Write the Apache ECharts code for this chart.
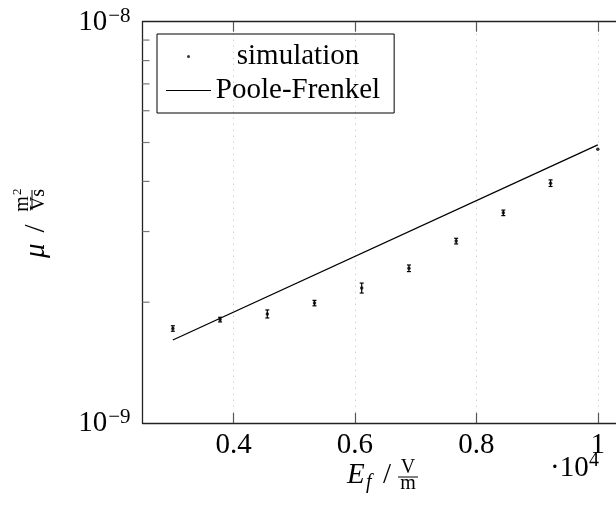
<!DOCTYPE html>
<html>
<head>
<meta charset="utf-8">
<script src="https://cdn.jsdelivr.net/npm/echarts@6/dist/echarts.min.js"></script>
<style>html,body{margin:0;padding:0;background:#fff}#c{width:616px;height:511px}</style>
</head>
<body>
<div id="c"></div>
<script>
// ---- data ----
const simX = [0.3, 0.3778, 0.4556, 0.5333, 0.6111, 0.6889, 0.7667, 0.8444, 0.9222, 1.0];
const simY = [1.72e-9, 1.81e-9, 1.87e-9, 1.99e-9, 2.17e-9, 2.43e-9, 2.84e-9, 3.34e-9, 3.96e-9, 4.81e-9];
const simErr = [0.027e-9, 0.024e-9, 0.043e-9, 0.031e-9, 0.062e-9, 0.046e-9, 0.046e-9, 0.053e-9, 0.075e-9, 0];
const pfX = [0.3, 1.0];
const pfY = [1.61e-9, 4.93e-9];
const xTicks = [0.4, 0.6, 0.8, 1.0];
const yMinorTicks = [2e-9, 3e-9, 4e-9, 5e-9, 6e-9, 7e-9, 8e-9, 9e-9];
const xRange = [0.25, 1.03];
const yRange = [1e-9, 1e-8];

const FONT = 'Liberation Serif';
const chart = echarts.init(document.getElementById('c'), null, {renderer: 'canvas'});

function txt(text, x, baseline, size, opts) {
  opts = opts || {};
  return {
    type: 'text', x: x, y: baseline - 0.3 * size,
    style: Object.assign({
      text: text, font: (opts.italic ? 'italic ' : '') + size + 'px "' + FONT + '"',
      fill: '#000', align: opts.align || 'left', verticalAlign: 'middle'
    }, opts.style || {})
  };
}

const option = {
  animation: false,
  backgroundColor: '#fff',
  grid: {left: 142.5, top: 21.7, right: 0, bottom: 88, containLabel: false},
  legend: {
    orient: 'vertical', left: 157, top: 34,
    borderColor: '#000', borderWidth: 1, padding: [8, 14, 8, 9],
    itemGap: 5, itemWidth: 45, itemHeight: 3,
    selectedMode: false,
    formatter: n => '{c|' + n + '}',
    textStyle: {fontFamily: FONT, fontSize: 29, color: '#000',
      rich: {c: {fontFamily: FONT, fontSize: 29, lineHeight: 30, width: 164, align: 'center', color: '#000'}}},
    data: [
      {name: 'simulation', icon: 'circle', itemStyle: {color: '#000'}},
      {name: 'Poole-Frenkel', icon: 'path://M0,0H45V1H0Z', itemStyle: {color: '#000'}}
    ]
  },
  xAxis: [{
    type: 'value', min: xRange[0], max: xRange[1], position: 'bottom',
    axisLine: {show: true, lineStyle: {color: '#222', width: 1.3}},
    axisTick: {show: true, inside: true, length: 10, customValues: xTicks, lineStyle: {color: '#555', width: 1.2}},
    axisLabel: {customValues: xTicks, margin: 8, fontFamily: FONT, fontSize: 29, color: '#000',
      formatter: v => String(v)},
    splitLine: {show: true, lineStyle: {color: '#bbb', width: 1, type: [1, 5]}}
  }, {
    type: 'value', min: xRange[0], max: xRange[1], position: 'top',
    axisLine: {show: true, lineStyle: {color: '#222', width: 1.3}},
    axisTick: {show: true, inside: true, length: 10, customValues: xTicks, lineStyle: {color: '#555', width: 1.2}},
    axisLabel: {show: false},
    splitLine: {show: false}
  }],
  yAxis: [{
    type: 'log', logBase: 10, min: yRange[0], max: yRange[1],
    axisLine: {show: true, lineStyle: {color: '#222', width: 1.3}},
    axisTick: {show: false},
    splitLine: {show: false},
    axisLabel: {
      margin: 12, fontFamily: FONT, color: '#000',
      formatter: v => '{b|10}{s|\u2212' + Math.abs(Math.round(Math.log10(v))) + '}',
      rich: {
        b: {fontFamily: FONT, fontSize: 29, lineHeight: 30, verticalAlign: 'bottom', color: '#000'},
        s: {fontFamily: FONT, fontSize: 21, lineHeight: 21, verticalAlign: 'bottom', padding: [0, 0, 10, 1], color: '#000'}
      }
    }
  }],
  series: [
    {
      name: 'minor', type: 'custom', xAxisIndex: 0, yAxisIndex: 0, silent: true, clip: false,
      data: yMinorTicks.map(v => [xRange[0], v]),
      renderItem: (params, api) => {
        const p = api.coord([api.value(0), api.value(1)]);
        return {type: 'line', shape: {x1: p[0], y1: p[1], x2: p[0] + 7, y2: p[1]},
          style: {stroke: '#777', lineWidth: 1.2}};
      }
    },
    {
      name: 'Poole-Frenkel', type: 'line', symbol: 'none',
      data: pfX.map((x, i) => [x, pfY[i]]),
      lineStyle: {color: '#000', width: 1.3}, itemStyle: {color: '#000'}
    },
    {
      name: 'errbars', type: 'custom', silent: true,
      data: simX.map((x, i) => [x, simY[i], simErr[i]]),
      renderItem: (params, api) => {
        const x = api.value(0), y = api.value(1), e = api.value(2);
        if (!e) return {type: 'group', children: []};
        const t = api.coord([x, y + e]), b = api.coord([x, y - e]);
        const st = {stroke: '#000', lineWidth: 1.2};
        return {type: 'group', children: [
          {type: 'line', shape: {x1: t[0], y1: t[1], x2: b[0], y2: b[1]}, style: st},
          {type: 'line', shape: {x1: t[0] - 2, y1: t[1], x2: t[0] + 2, y2: t[1]}, style: st},
          {type: 'line', shape: {x1: b[0] - 2, y1: b[1], x2: b[0] + 2, y2: b[1]}, style: st}
        ]};
      }
    },
    {
      name: 'simulation', type: 'scatter', symbol: 'circle', symbolSize: 3.5,
      data: simX.map((x, i) => [x, simY[i]]),
      itemStyle: {color: '#000'}
    }
  ],
  graphic: [
    // x axis title: E_f / V/m
    txt('E', 347, 484, 29, {italic: true}),
    txt('f', 366, 489, 20, {italic: true}),
    txt('/', 383, 484, 29),
    txt('V', 408, 474, 20, {align: 'center'}),
    {type: 'line', shape: {x1: 398, y1: 477, x2: 418, y2: 477}, style: {stroke: '#000', lineWidth: 1}},
    txt('m', 408, 490, 20, {align: 'center'}),
    // scale label ·10^4
    txt('\u00b710', 550, 477, 29),
    txt('4', 589, 467, 20),
    // y axis title (rotated)
    {
      type: 'group', x: 45, y: 224, rotation: Math.PI / 2,
      children: [
        txt('\u03bc', -34, 0, 29, {italic: true}),
        txt('/', -8.5, 0, 29),
        txt('m', 20, -16, 20, {align: 'center'}),
        txt('2', 29, -24, 13),
        {type: 'line', shape: {x1: 14, y1: -13, x2: 34, y2: -13}, style: {stroke: '#000', lineWidth: 1}},
        txt('Vs', 24, 0, 20, {align: 'center'})
      ]
    }
  ]
};
chart.setOption(option);
</script>
</body>
</html>
